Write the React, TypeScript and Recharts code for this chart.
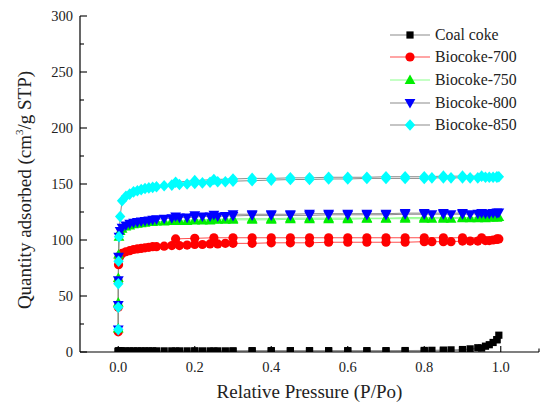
import React from "react";
import { LineChart, Line, XAxis, YAxis, Legend, Label } from "recharts";

// Relative pressures (adsorption branch, then desorption branch)
const ADS_P = [0.00001, 0.00005, 0.0002, 0.0008, 0.002, 0.005, 0.01, 0.02, 0.03, 0.04, 0.05, 0.06, 0.07, 0.08, 0.09, 0.1, 0.12, 0.14, 0.16, 0.18, 0.2, 0.22, 0.24, 0.26, 0.28, 0.3, 0.35, 0.4, 0.45, 0.5, 0.55, 0.6, 0.65, 0.7, 0.75, 0.8, 0.82, 0.85, 0.87, 0.9, 0.92, 0.94, 0.96, 0.97, 0.98, 0.99, 0.995];
const DES_P = [0.99, 0.95, 0.9, 0.85, 0.8, 0.75, 0.7, 0.65, 0.6, 0.55, 0.5, 0.45, 0.4, 0.35, 0.3, 0.25, 0.2, 0.15];

const COAL_ADS = [0.5, 0.6, 0.7, 0.8, 0.9, 1, 1, 1, 1, 1, 1, 1, 1, 1, 1, 1, 1, 1, 1, 1, 1, 1, 1, 1, 1, 1, 1.2, 1.2, 1.2, 1.2, 1.2, 1.2, 1.2, 1.2, 1.3, 1.4, 1.5, 1.7, 1.9, 2.2, 2.8, 3.8, 5.2, 6.5, 8.5, 11, 15];
const COAL_DES = [11, 3.5, 1.5, 1, 0.8, 0.8, 0.8, 0.8, 0.8, 0.8, 0.8, 0.8, 0.8, 0.8, 0.8, 0.8, 0.8, 0.8];

const B700_ADS = [18, 40, 63, 78, 84, 86, 88, 89.5, 90.5, 91.5, 92, 92.5, 93, 93.5, 94, 94, 94.5, 95, 95, 95.5, 96, 96, 96.5, 96.5, 97, 97, 97, 97.5, 97.5, 97.5, 98, 98, 98, 98, 98, 98.5, 98.5, 98.5, 98.5, 99, 99, 99, 99.5, 99.5, 100, 100.5, 101];
const B700_DES = [101, 102, 102, 102, 102, 102, 102, 102, 102, 102, 102, 102, 102, 102, 102, 102, 101.5, 101];

const B750_ADS = [21, 44, 66, 87, 103, 108, 110, 112, 113, 114, 114.5, 115, 115.5, 116, 116, 116.5, 116.5, 117, 117, 117, 117.5, 117.5, 117.5, 118, 118, 118, 118, 118, 118.5, 118.5, 118.5, 118.5, 119, 119, 119, 119, 119, 119, 119, 119.5, 119.5, 119.5, 119.5, 120, 120, 120, 120.5];
const B750_DES = [120, 120, 120, 120, 120, 120, 119.5, 119.5, 119.5, 119.5, 119.5, 119.5, 119, 119, 119, 118.5, 118, 117.5];

const B800_ADS = [20, 42, 64, 85, 103, 108, 111, 113, 114.5, 115.5, 116, 116.5, 117, 117.5, 118, 118.5, 119, 119.5, 120, 120, 120.5, 121, 121, 121, 121.5, 121.5, 122, 122, 122, 122, 122.5, 122.5, 122.5, 122.5, 123, 123, 123, 123, 123, 123, 123, 123.5, 123.5, 123.5, 124, 124, 124.5];
const B800_DES = [124.5, 124, 124, 124, 124, 124, 123.5, 123.5, 123.5, 123.5, 123.5, 123, 123, 123, 123, 122.5, 122, 121];

const B850_ADS = [20, 40, 61, 81, 103, 121, 135, 139, 141, 143, 144, 145, 146, 146.5, 147, 147.5, 148.5, 149, 149.5, 150, 150.5, 151, 151.5, 152, 152, 152.5, 153, 153.5, 154, 154, 154.5, 154.5, 155, 155, 155, 155, 155.5, 155.5, 155.5, 155.5, 155.5, 155.5, 156, 156, 156, 156, 156.5];
const B850_DES = [156.5, 157, 157, 157, 156.5, 156.5, 156.5, 156, 156, 156, 155.5, 155.5, 155, 155, 154.5, 154, 153, 151.5];

const SERIES_NAMES = ["Coal coke", "Biocoke-700", "Biocoke-750", "Biocoke-800", "Biocoke-850"];
const X_TICKS = [0, 0.1, 0.2, 0.3, 0.4, 0.5, 0.6, 0.7, 0.8, 0.9, 1.0, 1.1];
const Y_TICKS = [0, 25, 50, 75, 100, 125, 150, 175, 200, 225, 250, 275, 300];

const FONT = "Liberation Serif, DejaVu Serif, serif";

const build = (ads: number[], des: number[]) => [
  ...ADS_P.map((p, i) => ({ p, v: ads[i] })),
  ...DES_P.map((p, i) => ({ p, v: des[i] })),
];

type Shape = "square" | "circle" | "up" | "down" | "diamond";

const Marker = ({ cx, cy, shape, color }: { cx: number; cy: number; shape: Shape; color: string }) => {
  if (cx == null || cy == null || isNaN(cx) || isNaN(cy)) return null;
  switch (shape) {
    case "square":
      return <rect x={cx - 3.6} y={cy - 3.6} width={7.2} height={7.2} fill={color} />;
    case "circle":
      return <circle cx={cx} cy={cy} r={4.6} fill={color} />;
    case "up":
      return <polygon points={`${cx},${cy - 5.6} ${cx + 5.4},${cy + 4} ${cx - 5.4},${cy + 4}`} fill={color} />;
    case "down":
      return <polygon points={`${cx},${cy + 5.6} ${cx + 5.4},${cy - 4} ${cx - 5.4},${cy - 4}`} fill={color} />;
    default:
      return <polygon points={`${cx},${cy - 5.8} ${cx + 5.2},${cy} ${cx},${cy + 5.8} ${cx - 5.2},${cy}`} fill={color} />;
  }
};

const SERIES = [
  { name: SERIES_NAMES[0], data: build(COAL_ADS, COAL_DES), shape: "square" as Shape, fill: "#000000", stroke: "#8c8c8c" },
  { name: SERIES_NAMES[1], data: build(B700_ADS, B700_DES), shape: "circle" as Shape, fill: "#ff0000", stroke: "#ff4d4d" },
  { name: SERIES_NAMES[2], data: build(B750_ADS, B750_DES), shape: "up" as Shape, fill: "#00ee00", stroke: "#8cff8c" },
  { name: SERIES_NAMES[3], data: build(B800_ADS, B800_DES), shape: "down" as Shape, fill: "#0000ff", stroke: "#8c8c8c" },
  { name: SERIES_NAMES[4], data: build(B850_ADS, B850_DES), shape: "diamond" as Shape, fill: "#00ffff", stroke: "#8c8c8c" },
];

const XTick = (props: any) => {
  const { x, y, payload } = props;
  const v = payload.value as number;
  const major = Math.round(v * 10) % 2 === 0;
  return (
    <g>
      <line x1={x} x2={x} y1={y} y2={y - (major ? 6 : 3.5)} stroke="#000" strokeWidth={1.1} />
      {major && (
        <text x={x} y={y + 20} textAnchor="middle" fontSize={14.5} style={{ fontFamily: FONT }} fill="#222">
          {v.toFixed(1)}
        </text>
      )}
    </g>
  );
};

const YTick = (props: any) => {
  const { x, y, payload } = props;
  const v = payload.value as number;
  const major = v % 50 === 0;
  return (
    <g>
      <line x1={x} x2={x + (major ? 7 : 4)} y1={y} y2={y} stroke="#000" strokeWidth={1.1} />
      {major && (
        <text x={x - 7} y={y} dy="0.35em" textAnchor="end" fontSize={14.5} style={{ fontFamily: FONT }} fill="#222">
          {v}
        </text>
      )}
    </g>
  );
};

const YLabel = (props: any) => {
  const vb = props.viewBox || { x: 0, y: 0, width: 0, height: 0 };
  const cx = vb.x + 31;
  const cy = vb.y + vb.height / 2 + 6;
  return (
    <text x={cx} y={cy} transform={`rotate(-90, ${cx}, ${cy})`} textAnchor="middle" fontSize={19} style={{ fontFamily: FONT }} fill="#222">
      Quantity adsorbed (cm
      <tspan dy={-8} fontSize={11}>3</tspan>
      <tspan dy={8}>/g STP)</tspan>
    </text>
  );
};

const XLabel = (props: any) => {
  const vb = props.viewBox || { x: 0, y: 0, width: 0, height: 0 };
  return (
    <text x={vb.x + vb.width / 2} y={vb.y + 46} textAnchor="middle" fontSize={19} style={{ fontFamily: FONT }} fill="#222">
      Relative Pressure (P/Po)
    </text>
  );
};

const LegendContent = () => (
  <div style={{ fontFamily: FONT, fontSize: 15.8, color: "#222" }}>
    {SERIES.map((s) => (
      <div key={s.name} style={{ display: "flex", alignItems: "center", height: 22.6 }}>
        <svg width={46} height={22} style={{ display: "block" }}>
          <line x1={2} x2={42} y1={11} y2={11} stroke={s.stroke} strokeWidth={1.2} />
          <Marker cx={22} cy={11} shape={s.shape} color={s.fill} />
        </svg>
        <span style={{ marginLeft: 1, whiteSpace: "nowrap" }}>{s.name}</span>
      </div>
    ))}
  </div>
);

export default function App() {
  return (
    <div style={{ position: "absolute", left: 0, top: 0, width: 550, height: 410, background: "#fff", fontFamily: FONT }}>
      <LineChart width={550} height={410} margin={{ top: 16, right: 11, bottom: 0, left: 0 }} style={{ fontFamily: FONT }}>
        <XAxis
          dataKey="p"
          type="number"
          domain={[-0.1, 1.1]}
          ticks={X_TICKS}
          interval={0}
          height={58}
          tickSize={0}
          tickMargin={0}
          tickLine={false}
          tick={XTick}
          axisLine={{ stroke: "#000", strokeWidth: 1.2 }}
          allowDataOverflow
        >
          <Label content={XLabel} />
        </XAxis>
        <YAxis
          type="number"
          domain={[0, 300]}
          ticks={Y_TICKS}
          interval={0}
          width={80}
          tickSize={0}
          tickMargin={0}
          tickLine={false}
          tick={YTick}
          axisLine={{ stroke: "#000", strokeWidth: 1.2 }}
          allowDataOverflow
        >
          <Label content={YLabel} />
        </YAxis>
        <Legend
          layout="horizontal"
          verticalAlign="middle"
          align="center"
          content={LegendContent}
          wrapperStyle={{ left: 388, top: 23.5, width: 160, height: 115 }}
        />
        {SERIES.map((s) => (
          <Line
            key={s.name}
            data={s.data}
            dataKey="v"
            name={s.name}
            type="linear"
            stroke={s.stroke}
            strokeWidth={1}
            isAnimationActive={false}
            dot={(dp: any) => <Marker key={`${s.name}-${dp.index}`} cx={dp.cx} cy={dp.cy} shape={s.shape} color={s.fill} />}
            activeDot={false}
          />
        ))}
      </LineChart>
    </div>
  );
}
